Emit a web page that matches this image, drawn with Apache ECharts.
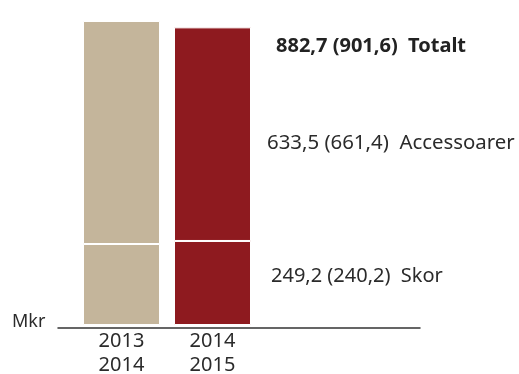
<!DOCTYPE html>
<html><head><meta charset="utf-8">
<script src="https://cdn.jsdelivr.net/npm/echarts@6/dist/echarts.min.js"></script>
<style>html,body{margin:0;padding:0;background:#fff}#c{width:519px;height:374px}</style>
</head><body><div id="c"></div>
<script>
const categories = ["2013\n2014", "2014\n2015"];
const skor = [240.2, 249.2];
const accessoarer = [661.4, 633.5];
const totalt = [901.6, 882.7];
const segmentNames = ["Skor", "Accessoarer", "Totalt"];
const unitLabel = "Mkr";

const fmt = v => v.toFixed(1).replace('.', ',');
const colors = ['#C4B59B', '#8E1A1F'];
const font = '"Noto Sans", sans-serif';

const chart = echarts.init(document.getElementById('c'), null, {renderer: 'canvas'});
chart.setOption({
  animation: false,
  grid: [
    {left: 76, width: 182, top: 21, bottom: 49, outerBoundsMode: 'none', containLabel: false},
    {left: 58, right: 99, top: 20, bottom: 46, outerBoundsMode: 'none', containLabel: false}
  ],
  xAxis: [
    {type: 'category', gridIndex: 0, data: categories, axisLine: {show: false}, axisTick: {show: false},
     axisLabel: {color: '#2b2b2b', fontSize: 20, lineHeight: 24, fontFamily: font, margin: 4}},
    {type: 'category', gridIndex: 1, data: [], axisLine: {show: true, lineStyle: {color: '#333', width: 1.5}},
     axisTick: {show: false}, axisLabel: {show: false}}
  ],
  yAxis: [
    {type: 'value', gridIndex: 0, min: 0, max: v => v.max, show: false, splitLine: {show: false}},
    {type: 'value', gridIndex: 1, show: false, splitLine: {show: false}}
  ],
  series: [
    {type: 'bar', name: segmentNames[0], stack: 't', xAxisIndex: 0, yAxisIndex: 0, barWidth: 77,
     data: skor.map((v, i) => ({value: v, itemStyle: {color: colors[i]}})),
     itemStyle: {borderColor: '#fff', borderWidth: 1}},
    {type: 'bar', name: segmentNames[1], stack: 't', xAxisIndex: 0, yAxisIndex: 0, barWidth: 77,
     data: accessoarer.map((v, i) => ({value: v, itemStyle: {color: colors[i]}})),
     itemStyle: {borderColor: '#fff', borderWidth: 1}}
  ],
  graphic: [
    {type: 'text', x: 12, y: 322, style: {text: unitLabel, fontSize: 18, fontFamily: font, fill: '#2b2b2b', verticalAlign: 'middle'}},
    {type: 'text', x: 276, y: 46, style: {text: fmt(totalt[1]) + ' (' + fmt(totalt[0]) + ')  ' + segmentNames[2], fontSize: 20, fontWeight: 'bold', fontFamily: font, fill: '#222', verticalAlign: 'middle'}},
    {type: 'text', x: 267, y: 143, style: {text: fmt(accessoarer[1]) + ' (' + fmt(accessoarer[0]) + ')  ' + segmentNames[1], fontSize: 20.4, fontFamily: font, fill: '#2b2b2b', verticalAlign: 'middle'}},
    {type: 'text', x: 271, y: 276, style: {text: fmt(skor[1]) + ' (' + fmt(skor[0]) + ')  ' + segmentNames[0], fontSize: 20, fontFamily: font, fill: '#2b2b2b', verticalAlign: 'middle'}}
  ]
});
</script></body></html>
